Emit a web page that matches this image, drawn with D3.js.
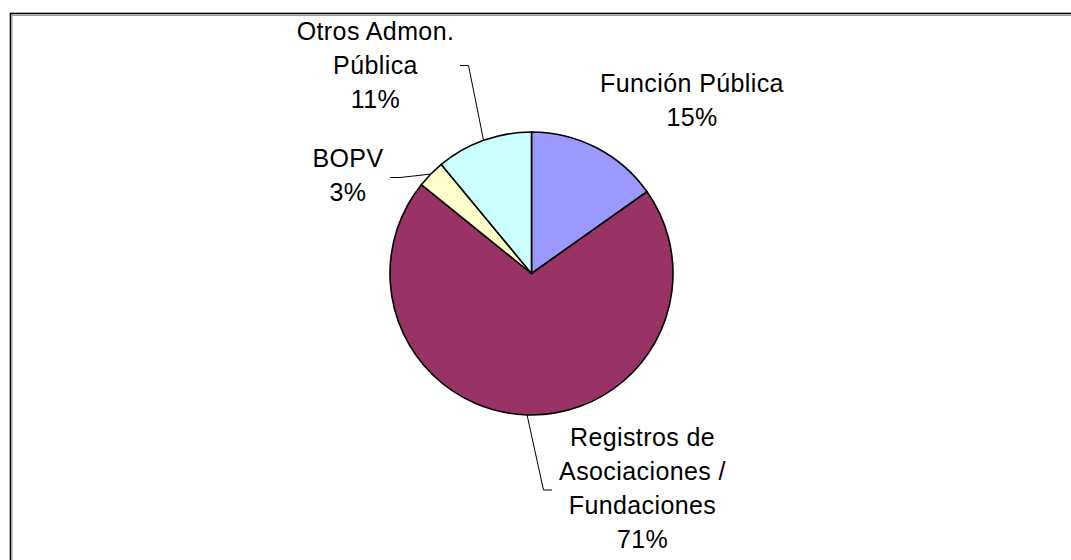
<!DOCTYPE html>
<html lang="es">
<head>
<meta charset="utf-8">
<title>Pie</title>
<script src="https://d3js.org/d3.v7.min.js"></script>
<style>
  body { margin: 0; background: #fff; }
  text { font-family: "Liberation Sans", Arial, sans-serif; font-size: 25px; letter-spacing: 0.4px; fill: #000; }
</style>
</head>
<body>
<svg id="chart" width="1071" height="560"></svg>
<script>
// data
var categories = ["Función Pública", "Registros de Asociaciones / Fundaciones", "BOPV", "Otros Admon. Pública"];
var values = [15.2, 70.6, 3.2, 11.0];
var colors = ["#9999FF", "#993366", "#FFFFCC", "#CCFFFF"];
// label lines (text broken the way the chart shows it)
var labelLines = [
  ["Función Pública"],
  ["Registros de", "Asociaciones /", "Fundaciones"],
  ["BOPV"],
  ["Otros Admon.", "Pública"]
];

// layout
var cx = 531.5, cy = 273.5, r = 141.5;
var lineH = 34;
var labelPos = [          // x center, first baseline
  [692, 92],
  [642.5, 446],
  [348, 166.5],
  [375.5, 39.5]
];
var leaderEnd = [         // outside points of leader lines (null = none)
  null,
  [[543.5, 490], [552, 490]],
  [[400, 177.5], [390, 177.5]],
  [[468.5, 65.5], [460, 65.5]]
];

var svg = d3.select("#chart");
var total = d3.sum(values);
var fmt = function(v) { return Math.round(v / total * 100) + "%"; };

// frame
svg.append("rect")
   .attr("x", 10.5).attr("y", 13.5)
   .attr("width", 1100).attr("height", 600)
   .attr("fill", "none")
   .attr("stroke", "#000")
   .attr("stroke-width", 1.6);
svg.append("path")
   .attr("d", "M12,600V15.5H1100")
   .attr("fill", "none")
   .attr("stroke", "#999")
   .attr("stroke-width", 1);

var pie = d3.pie().sort(null).value(function(d) { return d; });
var arcs = pie(values);
var arc = d3.arc().innerRadius(0).outerRadius(r);

var g = svg.append("g").attr("transform", "translate(" + cx + "," + cy + ")");

g.selectAll("path.slice")
 .data(arcs)
 .enter()
 .append("path")
 .attr("class", "slice")
 .attr("d", arc)
 .attr("fill", function(d, i) { return colors[i]; })
 .attr("stroke", "#000")
 .attr("stroke-width", 1.6)
 .attr("stroke-linejoin", "round");

// leader lines
arcs.forEach(function(d, i) {
  if (!leaderEnd[i]) return;
  var a = (d.startAngle + d.endAngle) / 2;
  var p0 = [cx + r * Math.sin(a), cy - r * Math.cos(a)];
  var pts = [p0].concat(leaderEnd[i]);
  svg.append("path")
     .attr("d", d3.line()(pts))
     .attr("fill", "none")
     .attr("stroke", "#000")
     .attr("stroke-width", 1);
});

// labels
arcs.forEach(function(d, i) {
  var lines = labelLines[i].concat([fmt(d.value)]);
  var t = svg.append("text")
     .attr("text-anchor", "middle");
  lines.forEach(function(s, k) {
    t.append("tspan")
     .attr("x", labelPos[i][0])
     .attr("y", labelPos[i][1] + k * lineH)
     .text(s);
  });
});
</script>
</body>
</html>
